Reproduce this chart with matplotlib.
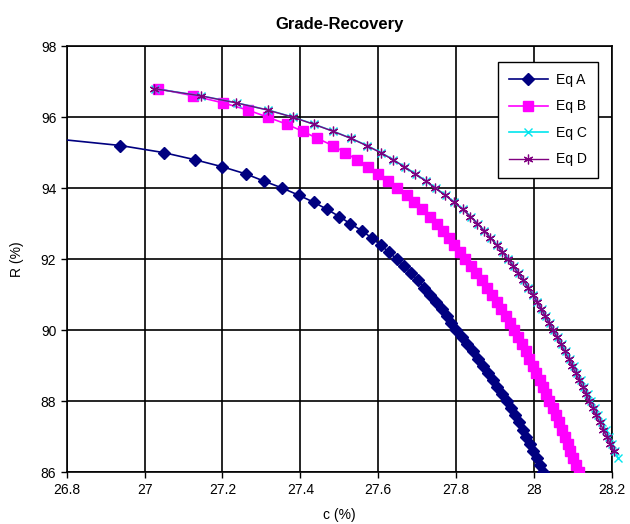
import matplotlib
matplotlib.use("Agg")
import matplotlib.pyplot as plt

plt.rcParams["font.family"] = ["Liberation Sans", "DejaVu Sans"]

# grade c (%) and recovery R (%)
recovery_a = [95.4, 95.2, 95.0, 94.8, 94.6, 94.4, 94.2, 94.0, 93.8, 93.6,
              93.4, 93.2, 93.0, 92.8, 92.6, 92.4, 92.2, 92.0, 91.8, 91.6,
              91.4, 91.2, 91.0, 90.8, 90.6, 90.4, 90.2, 90.0, 89.8, 89.6,
              89.4, 89.2, 89.0, 88.8, 88.6, 88.4, 88.2, 88.0, 87.8, 87.6,
              87.4, 87.2, 87.0, 86.8, 86.6, 86.4, 86.2, 86.0]
grade_a = [26.760, 26.938, 27.049, 27.129, 27.200, 27.260, 27.306, 27.354, 27.396, 27.435,
           27.469, 27.500, 27.528, 27.558, 27.583, 27.606, 27.627, 27.648, 27.667, 27.685,
           27.702, 27.718, 27.734, 27.749, 27.763, 27.776, 27.788, 27.800, 27.815, 27.829,
           27.843, 27.856, 27.869, 27.882, 27.894, 27.906, 27.918, 27.930, 27.941, 27.951,
           27.961, 27.971, 27.980, 27.989, 27.998, 28.007, 28.015, 28.023]

recovery_b = [96.8, 96.6, 96.4, 96.2, 96.0, 95.8, 95.6, 95.4, 95.2, 95.0,
              94.8, 94.6, 94.4, 94.2, 94.0, 93.8, 93.6, 93.4, 93.2, 93.0,
              92.8, 92.6, 92.4, 92.2, 92.0, 91.8, 91.6, 91.4, 91.2, 91.0,
              90.8, 90.6, 90.4, 90.2, 90.0, 89.8, 89.6, 89.4, 89.2, 89.0,
              88.8, 88.6, 88.4, 88.2, 88.0, 87.8, 87.6, 87.4, 87.2, 87.0,
              86.8, 86.6, 86.4, 86.2, 86.0]
grade_b = [27.035, 27.125, 27.202, 27.265, 27.316, 27.365, 27.406, 27.444, 27.483, 27.515,
           27.545, 27.573, 27.600, 27.626, 27.649, 27.673, 27.693, 27.713, 27.733, 27.750,
           27.766, 27.781, 27.795, 27.809, 27.823, 27.838, 27.852, 27.866, 27.879, 27.892,
           27.904, 27.916, 27.928, 27.939, 27.950, 27.960, 27.970, 27.979, 27.988, 27.997,
           28.006, 28.015, 28.024, 28.032, 28.040, 28.048, 28.056, 28.064, 28.072, 28.080,
           28.087, 28.094, 28.101, 28.108, 28.115]

recovery_c = [96.8, 96.6, 96.4, 96.2, 96.0, 95.8, 95.6, 95.4, 95.2, 95.0,
              94.8, 94.6, 94.4, 94.2, 94.0, 93.8, 93.6, 93.4, 93.2, 93.0,
              92.8, 92.6, 92.4, 92.2, 92.0, 91.8, 91.6, 91.4, 91.2, 91.0,
              90.8, 90.6, 90.4, 90.2, 90.0, 89.8, 89.6, 89.4, 89.2, 89.0,
              88.8, 88.6, 88.4, 88.2, 88.0, 87.8, 87.6, 87.4, 87.2, 87.0,
              86.8, 86.6, 86.4]
grade_c = [27.026, 27.145, 27.237, 27.317, 27.381, 27.435, 27.485, 27.531, 27.571, 27.607,
           27.639, 27.668, 27.696, 27.723, 27.748, 27.773, 27.796, 27.818, 27.838, 27.856,
           27.873, 27.889, 27.905, 27.920, 27.934, 27.948, 27.961, 27.974, 27.986, 27.998,
           28.009, 28.020, 28.031, 28.041, 28.051, 28.062, 28.072, 28.083, 28.093, 28.102,
           28.112, 28.121, 28.130, 28.139, 28.148, 28.157, 28.166, 28.175, 28.184, 28.193,
           28.201, 28.209, 28.216]

recovery_d = [96.8, 96.6, 96.4, 96.2, 96.0, 95.8, 95.6, 95.4, 95.2, 95.0,
              94.8, 94.6, 94.4, 94.2, 94.0, 93.8, 93.6, 93.4, 93.2, 93.0,
              92.8, 92.6, 92.4, 92.2, 92.0, 91.8, 91.6, 91.4, 91.2, 91.0,
              90.8, 90.6, 90.4, 90.2, 90.0, 89.8, 89.6, 89.4, 89.2, 89.0,
              88.8, 88.6, 88.4, 88.2, 88.0, 87.8, 87.6, 87.4, 87.2, 87.0,
              86.8, 86.6]
grade_d = [27.025, 27.144, 27.236, 27.316, 27.380, 27.434, 27.484, 27.530, 27.570, 27.606,
           27.638, 27.667, 27.695, 27.722, 27.747, 27.772, 27.795, 27.817, 27.837, 27.855,
           27.872, 27.888, 27.904, 27.919, 27.933, 27.947, 27.960, 27.973, 27.985, 27.997,
           28.008, 28.019, 28.029, 28.039, 28.049, 28.059, 28.069, 28.079, 28.089, 28.098,
           28.107, 28.116, 28.125, 28.134, 28.142, 28.151, 28.160, 28.169, 28.178, 28.187,
           28.196, 28.205]

x_ticks = [26.8, 27.0, 27.2, 27.4, 27.6, 27.8, 28.0, 28.2]
x_tick_labels = ["26.8", "27", "27.2", "27.4", "27.6", "27.8", "28", "28.2"]
y_ticks = [86, 88, 90, 92, 94, 96, 98]

fig = plt.figure(figsize=(6.3, 5.24), dpi=100)
ax = fig.add_axes([0.106, 0.099, 0.865, 0.813])

ax.plot(grade_a, recovery_a, color="#000080", lw=1.2, marker="D", ms=6,
        mfc="#000080", mec="#000080", label="Eq A", zorder=3)
ax.plot(grade_b, recovery_b, color="#FF00FF", lw=1.2, marker="s", ms=6.5,
        mfc="#FF00FF", mec="#FF00FF", label="Eq B", zorder=3)
ax.plot(grade_c, recovery_c, color="#00E5EE", lw=1.2, marker="x", ms=5.5,
        mew=1.0, label="Eq C", zorder=4, clip_on=False)
ax.plot(grade_d, recovery_d, color="#800080", lw=1.0, marker=(6, 2, 0), ms=7,
        mew=0.9, label="Eq D", zorder=5, clip_on=False)

ax.set_xlim(26.8, 28.2)
ax.set_ylim(86, 98)
ax.set_xticks(x_ticks)
ax.set_xticklabels(x_tick_labels)
ax.set_yticks(y_ticks)
ax.grid(True, color="black", lw=1.2)
ax.set_axisbelow(True)
for s in ax.spines.values():
    s.set_color("black")
    s.set_linewidth(1.2)
ax.tick_params(axis="both", direction="out", length=4, width=1.0,
               labelsize=10, colors="black")

ax.set_title("Grade-Recovery", fontsize=12, fontweight="bold", pad=12)
ax.set_xlabel("c (%)", fontsize=10, labelpad=8)
ax.set_ylabel("R (%)", fontsize=10, labelpad=12)

leg = ax.legend(loc="upper left", bbox_to_anchor=(0.79, 0.882),
                bbox_transform=fig.transFigure, borderaxespad=0,
                fancybox=False, framealpha=1, edgecolor="black",
                fontsize=10, handlelength=2.8, handletextpad=0.6,
                labelspacing=0.9, borderpad=0.8)
leg.get_frame().set_linewidth(1.0)
leg.set_zorder(10)

fig.savefig("out.png", dpi=100)
